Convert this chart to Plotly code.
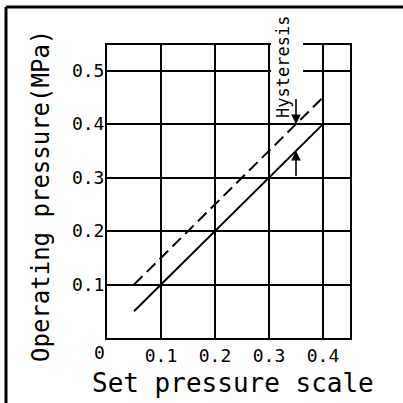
import plotly.graph_objects as go

# Data
set_pressure = [0.05, 0.4]
operating_solid = [0.05, 0.4]
operating_dashed = [0.1, 0.45]
x_ticks = [0.1, 0.2, 0.3, 0.4]
x_tick_labels = ["0.1", "0.2", "0.3", "0.4"]
y_ticks = [0.1, 0.2, 0.3, 0.4, 0.5]
y_tick_labels = ["0.1", "0.2", "0.3", "0.4", "0.5"]
hyst_x = 0.35
hyst_upper = [0.45, 0.40]
hyst_lower = [0.30, 0.35]

FONT = "DejaVu Sans Mono"

fig = go.Figure()
fig.add_trace(go.Scatter(x=set_pressure, y=operating_dashed, mode="lines",
                         line=dict(color="black", width=2, dash="12px,6px"),
                         showlegend=False, hoverinfo="skip"))
fig.add_trace(go.Scatter(x=set_pressure, y=operating_solid, mode="lines",
                         line=dict(color="black", width=2),
                         showlegend=False, hoverinfo="skip"))

# white box that interrupts the grid behind the label
fig.add_shape(type="rect", xref="paper", yref="paper",
              x0=0.675, x1=0.807, y0=0.863, y1=1.02,
              fillcolor="white", line=dict(width=0), layer="above")

annotations = [
    dict(x=hyst_x, y=hyst_upper[1], ax=hyst_x, ay=hyst_upper[0], xref="x", yref="y",
         axref="x", ayref="y", text="", showarrow=True, arrowhead=2,
         arrowsize=1.2, arrowwidth=1.6, arrowcolor="black"),
    dict(x=hyst_x, y=hyst_lower[1], ax=hyst_x, ay=hyst_lower[0], xref="x", yref="y",
         axref="x", ayref="y", text="", showarrow=True, arrowhead=2,
         arrowsize=1.2, arrowwidth=1.6, arrowcolor="black"),
    dict(x=0.326, y=0.507, xref="x", yref="y", text="Hysteresis", textangle=-90,
         xanchor="center", yanchor="middle",
         showarrow=False, font=dict(family=FONT, size=17, color="black")),
    dict(x=0, y=0, xref="x", yref="y", text="0", showarrow=False, xshift=-8,
         yshift=-14, xanchor="center", yanchor="middle",
         font=dict(family=FONT, size=18, color="black")),
    dict(x=-0.2716, y=0.4846, xref="paper", yref="paper",
         text="Operating pressure(MPa)", textangle=-90, showarrow=False,
         xanchor="center", yanchor="middle",
         font=dict(family=FONT, size=24, color="black")),
    dict(x=0.519, y=-0.1536, xref="paper", yref="paper",
         text="Set pressure scale", showarrow=False,
         xanchor="center", yanchor="middle",
         font=dict(family=FONT, size=26, color="black")),
]

# outer frame (top and left edges)
fig.add_shape(type="line", xref="paper", yref="paper", x0=-0.4156, x1=1.25,
              y0=1.1297, y1=1.1297, line=dict(color="black", width=3))
fig.add_shape(type="line", xref="paper", yref="paper", x0=-0.4156, x1=-0.4156,
              y0=1.1297, y1=-0.25, line=dict(color="black", width=3))

fig.update_layout(
    width=403, height=403,
    margin=dict(l=107, r=53, t=45, b=65),
    paper_bgcolor="white", plot_bgcolor="white",
    annotations=annotations,
    xaxis=dict(range=[0, 0.45], tickvals=x_ticks, ticktext=x_tick_labels,
               showgrid=True, gridcolor="black", gridwidth=2,
               showline=True, linecolor="black", linewidth=2, mirror=True,
               zeroline=False, ticks="", tickfont=dict(family=FONT, size=18, color="black")),
    yaxis=dict(range=[0, 0.548], tickvals=y_ticks, ticktext=y_tick_labels,
               showgrid=True, gridcolor="black", gridwidth=2,
               showline=True, linecolor="black", linewidth=2, mirror=True,
               zeroline=False, ticks="", ticklabelstandoff=-3,
               tickfont=dict(family=FONT, size=18, color="black")),
)

fig.write_html("out.html", config={"displayModeBar": False},
               post_script="document.body.style.margin='0px';")
